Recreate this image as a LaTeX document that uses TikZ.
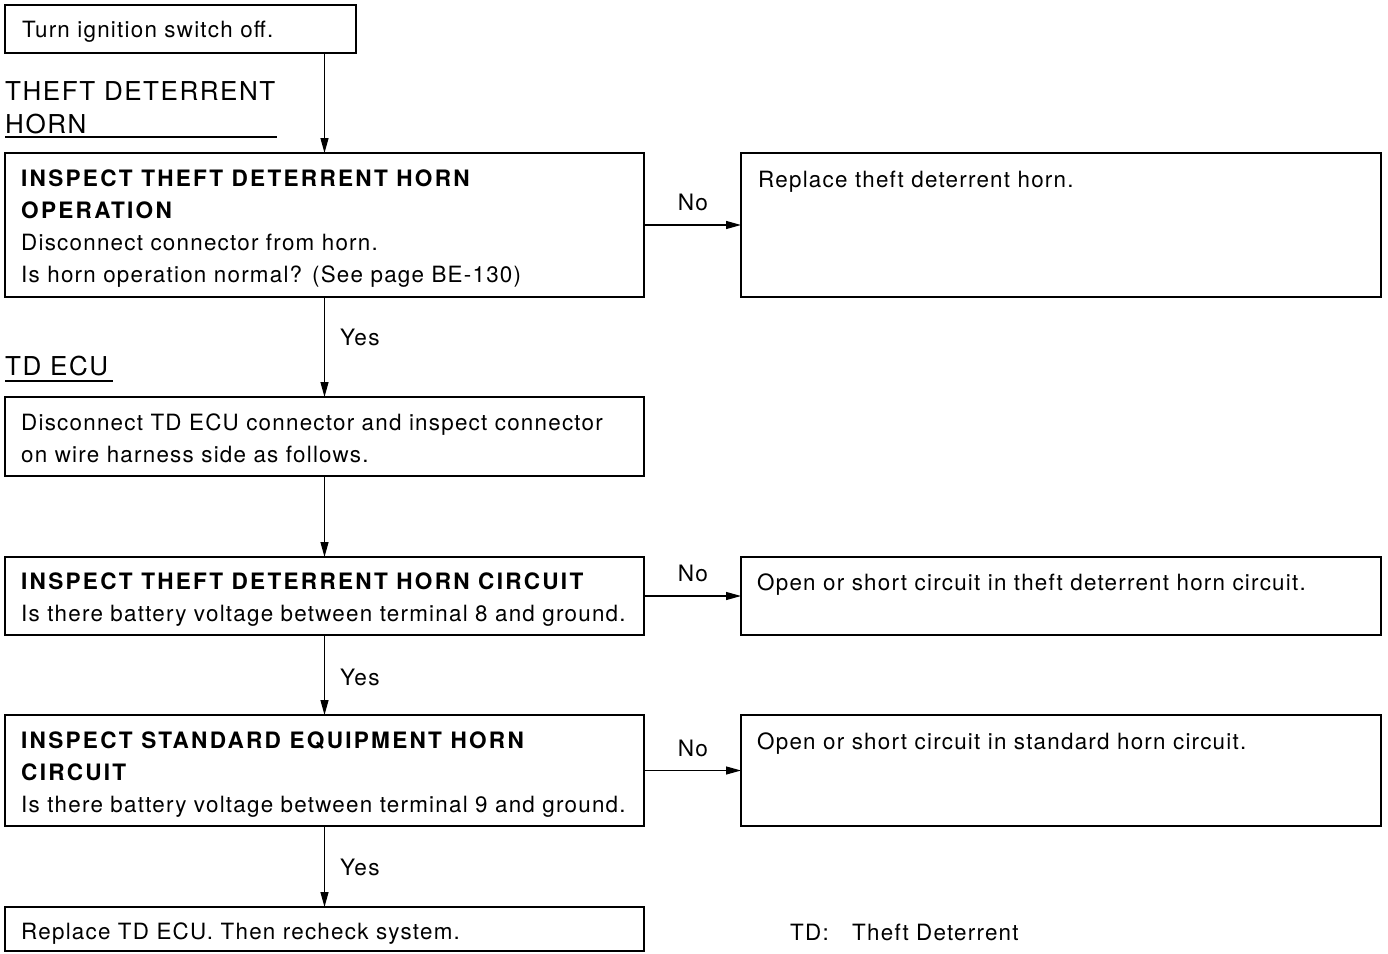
\documentclass[tikz,border=0pt]{standalone}
\usepackage{fontspec}
\setmainfont{TeX Gyre Heros}[LetterSpace=5.5, BoldFeatures={LetterSpace=10}]
\newfontfamily\headfont{TeX Gyre Heros}[LetterSpace=6]
\usetikzlibrary{arrows.meta}
\begin{document}
\begin{tikzpicture}[x=1pt, y=-1pt,
  box/.style={draw, line width=1.8pt, anchor=north west, inner sep=0pt, outer sep=0pt},
  txt/.style={anchor=base west, inner sep=0pt, align=left,
    font=\fontsize{22.4}{32}\selectfont},
  ttl/.style={txt, font=\bfseries\fontsize{22.6}{32}\selectfont},
  head/.style={anchor=base west, inner sep=0pt, font=\headfont\fontsize{26}{33}\selectfont},
  lbl/.style={inner sep=0pt, font=\fontsize{22.6}{26}\selectfont},
  flow/.style={line width=1.2pt, -{Triangle[length=15pt, width=8pt]}}]
\useasboundingbox (0,0) rectangle (1388,953);

% boxes of the main column
\node[box, minimum width=351pt, minimum height=48pt]  (start)  at (5,5)   {};
\node[box, minimum width=639pt, minimum height=144pt] (horn)   at (5,153) {};
\node[box, minimum width=639pt, minimum height=79pt]  (ecu)    at (5,397) {};
\node[box, minimum width=639pt, minimum height=78pt]  (tdcirc) at (5,557) {};
\node[box, minimum width=639pt, minimum height=111pt] (stdcirc) at (5,715) {};
\node[box, minimum width=639pt, minimum height=44pt]  (replecu) at (5,907) {};

% boxes of the right column
\node[box, minimum width=640pt, minimum height=144pt] (replhorn) at (741,153) {};
\node[box, minimum width=640pt, minimum height=78pt]  (tdopen)   at (741,557) {};
\node[box, minimum width=640pt, minimum height=111pt] (stdopen)  at (741,715) {};

% texts in the boxes
\node[txt] (t-start) at (22,37) {Turn ignition switch off.};
\node[ttl] (t-horn1) at (21,186) {INSPECT THEFT DETERRENT HORN};
\node[ttl] (t-horn2) at (21,218) {OPERATION};
\node[txt] (t-horn3) at (21,250) {Disconnect connector from horn.};
\node[txt] (t-horn4) at (21,282) {Is horn operation normal? (See page BE-130)};
\node[txt] (t-ecu1) at (21,430) {Disconnect TD ECU connector and inspect connector};
\node[txt] (t-ecu2) at (21,462) {on wire harness side as follows.};
\node[ttl] (t-td1) at (21,589) {INSPECT THEFT DETERRENT HORN CIRCUIT};
\node[txt] (t-td2) at (21,621) {Is there battery voltage between terminal 8 and ground.};
\node[ttl] (t-std1) at (21,748) {INSPECT STANDARD EQUIPMENT HORN};
\node[ttl] (t-std2) at (21,780) {CIRCUIT};
\node[txt] (t-std3) at (21,812) {Is there battery voltage between terminal 9 and ground.};
\node[txt] (t-replecu) at (21,939) {Replace TD ECU. Then recheck system.};
\node[txt] (t-replhorn) at (758,187) {Replace theft deterrent horn.};
\node[txt] (t-tdopen) at (757,590) {Open or short circuit in theft deterrent horn circuit.};
\node[txt] (t-stdopen) at (757,749) {Open or short circuit in standard horn circuit.};

% section headings
\node[head] (h-horn1) at (5,100) {THEFT DETERRENT};
\node[head] (h-horn2) at (5,133) {HORN};
\coordinate (u-horn-a) at (5,137);
\coordinate (u-horn-b) at (277,137);
\draw[line width=1.2pt] (u-horn-a) -- (u-horn-b);
\node[head] (h-ecu) at (5,375) {TD ECU};
\coordinate (u-ecu-a) at (5,381);
\coordinate (u-ecu-b) at (113,381);
\draw[line width=1.2pt] (u-ecu-a) -- (u-ecu-b);

% legend
\node[txt] (l-td) at (790,940) {TD:};
\node[txt] (l-theft) at (852,940) {Theft Deterrent};

% connectors
\draw[flow] (start.south -| horn.north) -- (horn.north);
\draw[flow] (horn.south) -- (ecu.north);
\draw[flow] (ecu.south) -- (tdcirc.north);
\draw[flow] (tdcirc.south) -- (stdcirc.north);
\draw[flow] (stdcirc.south) -- (replecu.north);
\draw[flow] (horn.east) -- (replhorn.west);
\draw[flow] (tdcirc.east) -- (tdopen.west);
\draw[flow] (stdcirc.east) -- (stdopen.west);

% branch labels
\node[lbl] (no1) at (693,202) {No};
\node[lbl] (no2) at (693,573) {No};
\node[lbl] (no3) at (693,748) {No};
\node[lbl, anchor=west] (yes1) at (340,337) {Yes};
\node[lbl, anchor=west] (yes2) at (340,677) {Yes};
\node[lbl, anchor=west] (yes3) at (340,867) {Yes};
\end{tikzpicture}
\end{document}
